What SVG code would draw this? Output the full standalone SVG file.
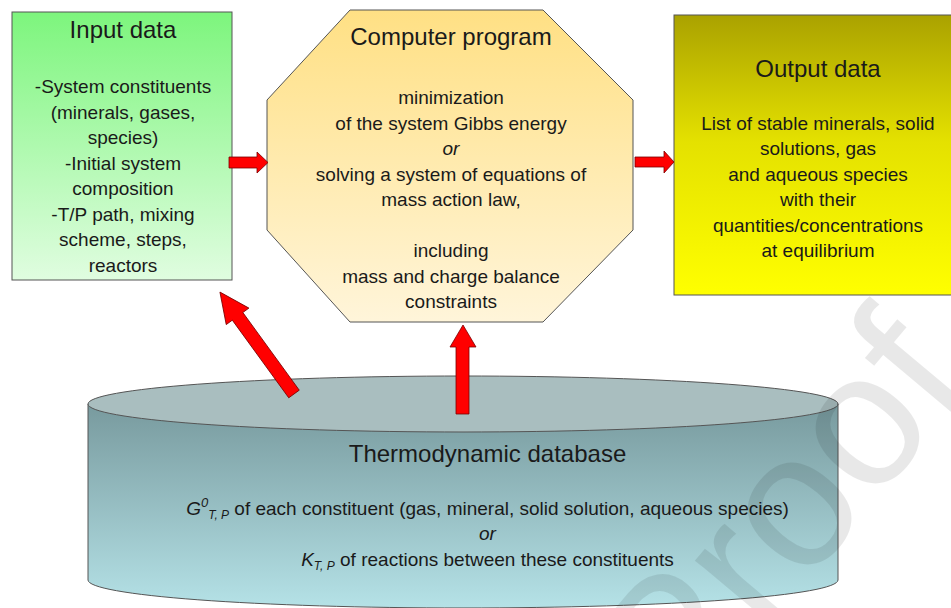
<svg xmlns="http://www.w3.org/2000/svg" width="951" height="608" viewBox="0 0 951 608">
<defs>
<linearGradient id="gIn" x1="0" y1="0" x2="0" y2="1"><stop offset="0" stop-color="#7DF57D"/><stop offset="1" stop-color="#E0FDE0"/></linearGradient>
<linearGradient id="gProg" x1="0" y1="0" x2="0" y2="1"><stop offset="0" stop-color="#FFE084"/><stop offset="1" stop-color="#FFF5DA"/></linearGradient>
<linearGradient id="gOut" x1="0" y1="0" x2="0" y2="1"><stop offset="0" stop-color="#AAA200"/><stop offset="0.45" stop-color="#E4E100"/><stop offset="1" stop-color="#FFFF00"/></linearGradient>
<linearGradient id="gCyl" x1="0" y1="0" x2="0" y2="1"><stop offset="0" stop-color="#789A9E"/><stop offset="1" stop-color="#B5E2E7"/></linearGradient>
</defs>
<style>
.box{stroke:#555;stroke-width:1}
.t{font-family:"Liberation Sans",Arial,sans-serif;fill:#1a1a1a;text-anchor:middle}
.h{font-size:24px}
.b{font-size:19px}
.i{font-style:italic}
.arr{fill:#FF0000;stroke:#7a0000;stroke-width:0.8}
.wm{font-family:"Liberation Sans",Arial,sans-serif;font-size:190px;fill:#000;fill-opacity:0.09}
</style>
<rect width="951" height="608" fill="#fff"/>

<g id="input">
<rect class="box" x="12" y="12" width="220" height="268" fill="url(#gIn)"/>
<text class="t h" x="123" y="38">Input data</text>
<text class="t b" x="123" y="93">-System constituents</text>
<text class="t b" x="123" y="118.6">(minerals, gases,</text>
<text class="t b" x="123" y="144.1">species)</text>
<text class="t b" x="123" y="169.7">-Initial system</text>
<text class="t b" x="123" y="195.3">composition</text>
<text class="t b" x="123" y="220.9">-T/P path, mixing</text>
<text class="t b" x="123" y="246.4">scheme, steps,</text>
<text class="t b" x="123" y="272">reactors</text>
</g>

<g id="program">
<polygon class="box" points="350,10 543,10 633,100 633,230 543,322 350,322 267,230 267,100" fill="url(#gProg)"/>
<text class="t h" x="451" y="45">Computer program</text>
<text class="t b" x="451" y="104">minimization</text>
<text class="t b" x="451" y="129.5">of the system Gibbs energy</text>
<text class="t b i" x="451" y="155">or</text>
<text class="t b" x="451" y="180.5">solving a system of equations of</text>
<text class="t b" x="451" y="206">mass action law,</text>
<text class="t b" x="451" y="257">including</text>
<text class="t b" x="451" y="282.5">mass and charge balance</text>
<text class="t b" x="451" y="308">constraints</text>
</g>

<g id="output">
<rect class="box" x="674" y="15" width="290" height="280" fill="url(#gOut)"/>
<text class="t h" x="818" y="77">Output data</text>
<text class="t b" x="818" y="130">List of stable minerals, solid</text>
<text class="t b" x="818" y="155">solutions, gas</text>
<text class="t b" x="818" y="181">and aqueous species</text>
<text class="t b" x="818" y="206">with their</text>
<text class="t b" x="818" y="232">quantities/concentrations</text>
<text class="t b" x="818" y="257">at equilibrium</text>
</g>

<g id="database">
<path class="box" d="M88,404 L88,580 A375,28 0 0 0 838,580 L838,404 Z" fill="url(#gCyl)"/>
<ellipse class="box" cx="463" cy="404" rx="375" ry="28" fill="#A9BEBF"/>
<text class="t h" x="487.5" y="462">Thermodynamic database</text>
<text class="t b" x="487.5" y="515"><tspan class="i">G</tspan><tspan class="i" font-size="13" dy="-8">0</tspan><tspan class="i" font-size="12" dy="12">T, P</tspan><tspan dy="-4"> of each constituent (gas, mineral, solid solution, aqueous species)</tspan></text>
<text class="t b i" x="487.5" y="540">or</text>
<text class="t b" x="487.5" y="566"><tspan class="i">K</tspan><tspan class="i" font-size="12" dy="4">T, P</tspan><tspan dy="-4"> of reactions between these constituents</tspan></text>
</g>

<g id="connectors">
<polygon class="arr" points="229,157 257,157 257,152 268,162.5 257,173 257,168 229,168"/>
<polygon class="arr" points="635,157 664,157 664,151 674,162 664,173 664,167 635,167"/>
<polygon class="arr" points="463,325 476,347 469,347 469,414 456,414 456,347 450,347"/>
<polygon class="arr" transform="translate(294,394) rotate(-126)" points="0,-6.5 96,-6.5 96,-14 126,0 96,14 96,6.5 0,6.5"/>
</g>

<text class="wm" transform="translate(682,732) rotate(-50)">Proof</text>
</svg>
